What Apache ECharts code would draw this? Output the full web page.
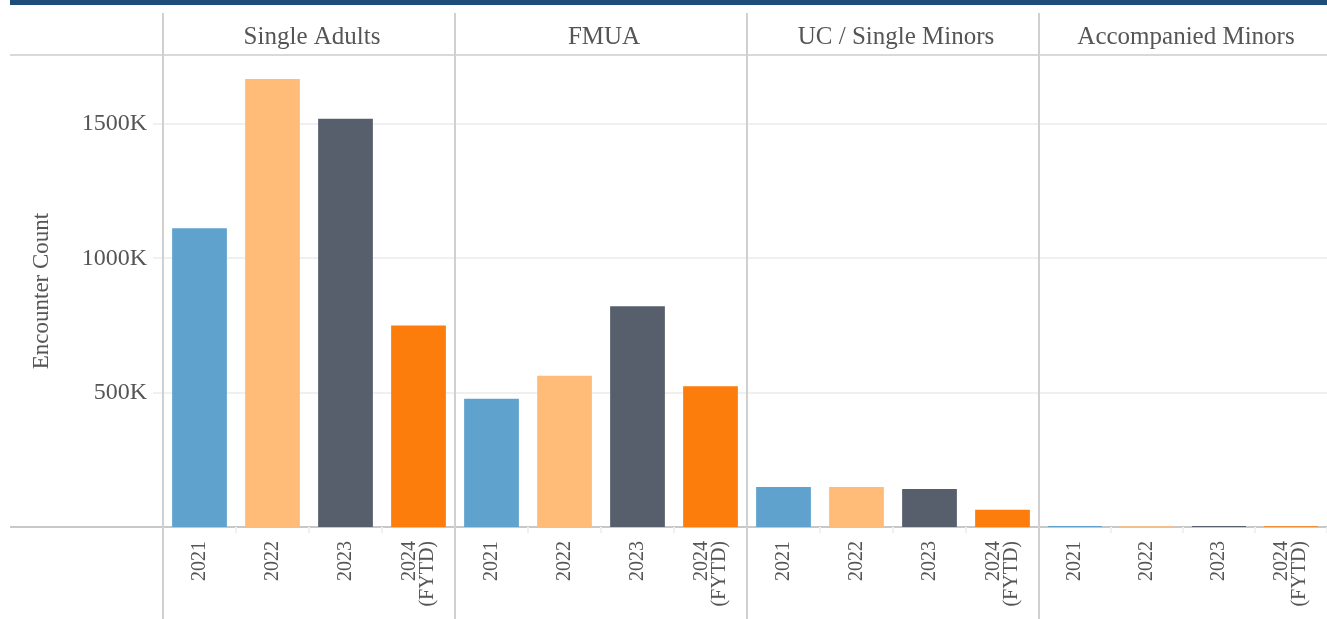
<!DOCTYPE html>
<html>
<head>
<meta charset="utf-8">
<script src="https://cdn.jsdelivr.net/npm/echarts@6/dist/echarts.min.js"></script>
<style>
html,body{margin:0;padding:0;background:#fff;}
#chart{width:1327px;height:619px;}
</style>
</head>
<body>
<div id="chart"></div>
<script>
// ---- data ----
var categories = ['2021', '2022', '2023', '2024\n(FYTD)'];
var panels = ['Single Adults', 'FMUA', 'UC / Single Minors', 'Accompanied Minors'];
var singleAdults = [1111000, 1667000, 1519000, 750000];
var fmua = [477000, 563000, 821000, 524000];
var ucSingleMinors = [149000, 149000, 141000, 64000];
var accompaniedMinors = [4000, 3000, 4000, 3000];
var yTickInterval = 500000;
var yAxisTitle = 'Encounter Count';

// ---- styling / layout ----
var seriesValues = [singleAdults, fmua, ucSingleMinors, accompaniedMinors];
var barColors = ['#5fa2ce', '#ffbc79', '#575f6d', '#fc7d0b'];
var panelLeft = [163, 455, 747, 1039];
var panelWidth = [292, 292, 292, 288];
var gridTop = 55, gridBottomY = 527;
var gridHeight = gridBottomY - gridTop;
var yMax = 1756000;
var font = 'Liberation Serif, Times New Roman, serif';
var textColor = '#555';

var grids = [], xAxes = [], yAxes = [], series = [], titles = [];
for (var i = 0; i < 4; i++) {
  grids.push({left: panelLeft[i], top: gridTop, width: panelWidth[i], height: gridHeight, containLabel: false});
  xAxes.push({
    type: 'category', gridIndex: i, data: categories,
    axisLine: {show: true, lineStyle: {color: '#c8c8c8', width: 2}},
    axisTick: {show: true, length: 6, lineStyle: {color: '#f0f0f0', width: 2}},
    axisLabel: {rotate: 90, margin: 14, fontFamily: font, fontSize: 20, color: textColor, lineHeight: 18}
  });
  yAxes.push({
    type: 'value', gridIndex: i, min: 0, max: yMax, interval: yTickInterval,
    name: i === 0 ? yAxisTitle : '',
    nameLocation: 'middle', nameRotate: 90, nameGap: 110,
    nameTextStyle: {fontFamily: font, fontSize: 23, color: textColor},
    axisLine: {show: false},
    axisTick: {show: i === 0, length: 10, lineStyle: {color: '#f0f0f0', width: 2}},
    axisLabel: {
      show: i === 0, showMinLabel: false, showMaxLabel: false, margin: 16,
      fontFamily: font, fontSize: 24, color: textColor,
      formatter: function (v) { return (v / 1000) + 'K'; }
    },
    splitLine: {show: true, lineStyle: {color: '#f0f0f0', width: 2}}
  });
  series.push({
    type: 'bar', xAxisIndex: i, yAxisIndex: i, barWidth: '75%',
    data: seriesValues[i].map(function (v, j) {
      return {value: v, itemStyle: {color: barColors[j]}};
    }),
    silent: true
  });
  titles.push({
    text: panels[i], left: panelLeft[i] + panelWidth[i] / 2 - 2, top: 20, textAlign: 'center',
    textStyle: {fontFamily: font, fontSize: 25, fontWeight: 'normal', color: textColor}
  });
}

var graphics = [
  {type: 'rect', shape: {x: 10, y: 0, width: 1317, height: 5}, style: {fill: '#1f4d7a'}, z: 10},
  {type: 'line', shape: {x1: 10, y1: 55, x2: 1327, y2: 55}, style: {stroke: '#d9d9d9', lineWidth: 2}, z: 10},
  {type: 'line', shape: {x1: 10, y1: gridBottomY, x2: 163, y2: gridBottomY}, style: {stroke: '#c8c8c8', lineWidth: 2}, z: 10}
];
panelLeft.forEach(function (x) {
  graphics.push({type: 'line', shape: {x1: x, y1: 13, x2: x, y2: 619}, style: {stroke: '#d0d0d0', lineWidth: 2}, z: 10});
});

var chart = echarts.init(document.getElementById('chart'), null, {renderer: 'canvas'});
chart.setOption({
  backgroundColor: '#fff',
  animation: false,
  title: titles,
  grid: grids,
  xAxis: xAxes,
  yAxis: yAxes,
  series: series,
  graphic: graphics
});
</script>
</body>
</html>
